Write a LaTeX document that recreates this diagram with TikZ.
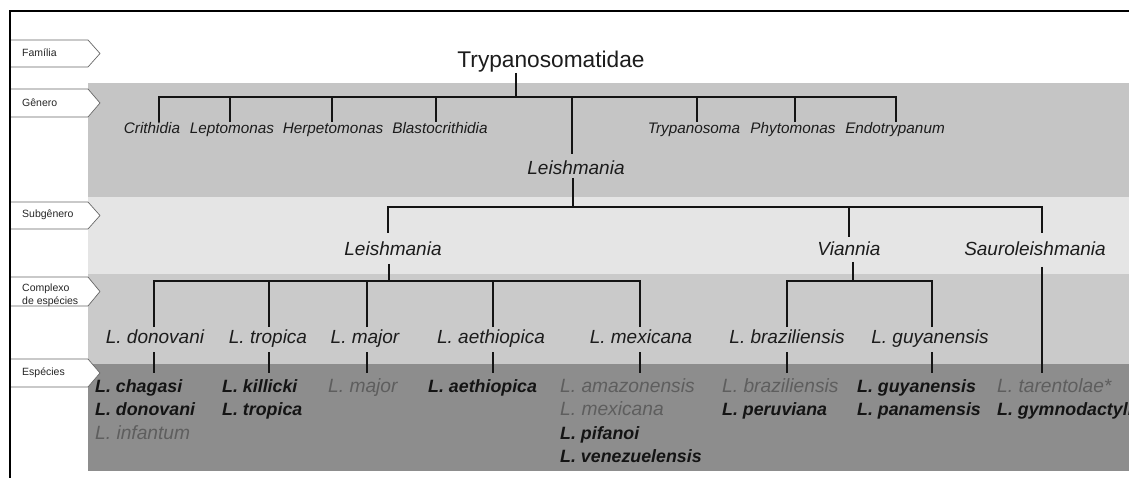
\documentclass[tikz,border=0pt]{standalone}
\usepackage{fontspec}
\setmainfont{Liberation Sans}
\definecolor{bandgen}{HTML}{C5C5C5}
\definecolor{bandsub}{HTML}{E5E5E5}
\definecolor{bandcom}{HTML}{CACACA}
\definecolor{bandesp}{HTML}{8D8D8D}
\definecolor{treetext}{HTML}{1C1C1C}
\definecolor{graysp}{HTML}{5E5E5E}
\begin{document}
\begin{tikzpicture}[x=1pt,y=-1pt,
  conn/.style={line width=2.7pt, draw=black!92},
  tabshape/.style={fill=white, draw=black!60, line width=0.7pt},
  tabtext/.style={anchor=west, inner sep=0pt, font=\fontsize{10.5}{13}\selectfont, text=black!85, align=left},
  famtext/.style={anchor=base, inner sep=0pt, font=\fontsize{22.7}{26}\selectfont, text=treetext},
  gentext/.style={anchor=base, inner sep=0pt, font=\fontsize{15.3}{18}\selectfont\itshape, text=treetext},
  bigtext/.style={anchor=base, inner sep=0pt, font=\fontsize{19}{22}\selectfont\itshape, text=treetext},
  spb/.style={anchor=base west, inner xsep=0pt, inner ysep=7pt, text height=12pt, text depth=4pt, font=\fontsize{17.8}{20}\selectfont\bfseries\itshape, text=black!92},
  spg/.style={spb, font=\fontsize{19.2}{22}\selectfont\itshape, text=graysp},
]
\clip (0,0) rectangle (1129,478);
\fill[white] (0,0) rectangle (1129,478);
% bands
\fill[bandgen] (88,83) rectangle (1129,197);
\fill[bandsub] (88,197) rectangle (1129,274);
\fill[bandcom] (88,274) rectangle (1129,364);
\fill[bandesp] (88,364) rectangle (1129,471);

% tabs
\path[tabshape] (10,40) -- (88,40) -- (100,53.5) -- (88,67) -- (10,67);
\path[tabshape] (10,89) -- (88,89) -- (100,103) -- (88,117) -- (10,117);
\path[tabshape] (10,202) -- (88,202) -- (100,215.5) -- (88,229) -- (10,229);
\path[tabshape] (10,277) -- (88,277) -- (100,291.5) -- (88,306) -- (10,306);
\path[tabshape] (10,359) -- (88,359) -- (100,373) -- (88,387) -- (10,387);
\node[tabtext] (tFam) at (22,53) {Família};
\node[tabtext] (tGen) at (22,102.5) {Gênero};
\node[tabtext] (tSub) at (22,215) {Subgênero};
\node[tabtext] (tCom) at (22,295) {Complexo\\de espécies};
\node[tabtext] (tEsp) at (22,372.5) {Espécies};

% frame
\draw[line width=2.3pt] (10,478) -- (10,11) -- (1129,11);

% family
\node[famtext] (T) at (551,68) {Trypanosomatidae};

% genera
\node[gentext] (gCri) at (152,134) {Crithidia};
\node[gentext] (gLep) at (232,134) {Leptomonas};
\node[gentext] (gHer) at (333,134) {Herpetomonas};
\node[gentext] (gBla) at (440,134) {Blastocrithidia};
\node[gentext] (gTry) at (694,134) {Trypanosoma};
\node[gentext] (gPhy) at (793,134) {Phytomonas};
\node[gentext] (gEnd) at (895,134) {Endotrypanum};
\node[bigtext] (gLei) at (576,175) {Leishmania};

% subgenera
\node[bigtext] (sLei) at (393,255) {Leishmania};
\node[bigtext] (sVia) at (849,255) {Viannia};
\node[bigtext] (sSau) at (1035,255) {Sauroleishmania};

% complexes
\node[bigtext] (cDon) at (155,343) {L. donovani};
\node[bigtext] (cTro) at (268,343) {L. tropica};
\node[bigtext] (cMaj) at (365,343) {L. major};
\node[bigtext] (cAet) at (491,343) {L. aethiopica};
\node[bigtext] (cMex) at (641,343) {L. mexicana};
\node[bigtext] (cBra) at (787,343) {L. braziliensis};
\node[bigtext] (cGuy) at (930,343) {L. guyanensis};

% species
\node[spb] (sDon1) at (95,392) {L. chagasi};
\node[spb] (sDon2) at (95,415.5) {L. donovani};
\node[spg] (sDon3) at (95,439) {L. infantum};
\node[spb] (sTro1) at (222,392) {L. killicki};
\node[spb] (sTro2) at (222,415.5) {L. tropica};
\node[spg] (sMaj1) at (328,392) {L. major};
\node[spb] (sAet1) at (428,392) {L. aethiopica};
\node[spg] (sMex1) at (560,392) {L. amazonensis};
\node[spg] (sMex2) at (560,415.5) {L. mexicana};
\node[spb] (sMex3) at (560,439) {L. pifanoi};
\node[spb] (sMex4) at (560,462.5) {L. venezuelensis};
\node[spg] (sBra1) at (722,392) {L. braziliensis};
\node[spb] (sBra2) at (722,415.5) {L. peruviana};
\node[spb] (sGuy1) at (857,392) {L. guyanensis};
\node[spb] (sGuy2) at (857,415.5) {L. panamensis};
\node[spg] (sSau1) at (997,392) {L. tarentolae*};
\node[spb] (sSau2) at (997,415.5) {L. gymnodactyli};

% ---- connectors: family -> genera
\coordinate (Tb) at ([xshift=-35pt,yshift=-5pt]T.base);
\coordinate (barG) at (516,97);
\draw[conn] (Tb) -- (barG);
\coordinate (gCriT) at ([xshift=7pt,yshift=12pt]gCri.base);
\coordinate (gLepT) at ([xshift=-2pt,yshift=12pt]gLep.base);
\coordinate (gHerT) at ([xshift=-1pt,yshift=12pt]gHer.base);
\coordinate (gBlaT) at ([xshift=-4pt,yshift=12pt]gBla.base);
\coordinate (gTryT) at ([xshift=3pt,yshift=12pt]gTry.base);
\coordinate (gPhyT) at ([xshift=2pt,yshift=12pt]gPhy.base);
\coordinate (gEndT) at ([xshift=1pt,yshift=12pt]gEnd.base);
\coordinate (gLeiT) at ([xshift=-4pt,yshift=21pt]gLei.base);
\foreach \g in {gCriT,gLepT,gHerT,gBlaT,gTryT,gPhyT,gEndT,gLeiT}
  \draw[conn] (\g) |- (barG);

% genus Leishmania -> subgenera
\coordinate (gLeiB) at ([xshift=-3pt,yshift=-3pt]gLei.base);
\coordinate (barS) at (573,207);
\draw[conn] (gLeiB) -- (barS);
\coordinate (sLeiT) at ([xshift=-5pt,yshift=22pt]sLei.base);
\coordinate (sViaT) at ([yshift=18pt]sVia.base);
\coordinate (sSauT) at ([xshift=7pt,yshift=22pt]sSau.base);
\foreach \g in {sLeiT,sViaT,sSauT}
  \draw[conn] (\g) |- (barS);

% subgenus Leishmania -> complexes
\coordinate (sLeiB) at ([xshift=-4pt,yshift=-9pt]sLei.base);
\coordinate (barL) at (389,281);
\draw[conn] (sLeiB) -- (barL);
\coordinate (cDonT) at ([xshift=-1pt,yshift=16pt]cDon.base);
\coordinate (cTroT) at ([xshift=1pt,yshift=16pt]cTro.base);
\coordinate (cMajT) at ([xshift=2pt,yshift=16pt]cMaj.base);
\coordinate (cAetT) at ([xshift=2pt,yshift=16pt]cAet.base);
\coordinate (cMexT) at ([xshift=-1pt,yshift=16pt]cMex.base);
\foreach \g in {cDonT,cTroT,cMajT,cAetT,cMexT}
  \draw[conn] (\g) |- (barL);

% subgenus Viannia -> complexes
\coordinate (sViaB) at ([xshift=4pt,yshift=-7pt]sVia.base);
\coordinate (barV) at (853,281);
\draw[conn] (sViaB) -- (barV);
\coordinate (cBraT) at ([yshift=16pt]cBra.base);
\coordinate (cGuyT) at ([xshift=2pt,yshift=16pt]cGuy.base);
\foreach \g in {cBraT,cGuyT}
  \draw[conn] (\g) |- (barV);

% complexes -> species
\coordinate (cDonB) at ([xshift=-1pt,yshift=-9pt]cDon.base);
\coordinate (cTroB) at ([xshift=1pt,yshift=-9pt]cTro.base);
\coordinate (cMajB) at ([xshift=2pt,yshift=-9pt]cMaj.base);
\coordinate (cAetB) at ([xshift=2pt,yshift=-9pt]cAet.base);
\coordinate (cMexB) at ([xshift=-1pt,yshift=-9pt]cMex.base);
\coordinate (cBraB) at ([yshift=-9pt]cBra.base);
\coordinate (cGuyB) at ([xshift=2pt,yshift=-9pt]cGuy.base);
\draw[conn] (cDonB) -- (cDonB |- sDon1.north);
\draw[conn] (cTroB) -- (cTroB |- sTro1.north);
\draw[conn] (cMajB) -- (cMajB |- sMaj1.north);
\draw[conn] (cAetB) -- (cAetB |- sAet1.north);
\draw[conn] (cMexB) -- (cMexB |- sMex1.north);
\draw[conn] (cBraB) -- (cBraB |- sBra1.north);
\draw[conn] (cGuyB) -- (cGuyB |- sGuy1.north);

% Sauroleishmania -> species
\coordinate (sSauB) at ([xshift=7pt,yshift=-12pt]sSau.base);
\draw[conn] (sSauB) -- (sSauB |- sSau1.north);
\end{tikzpicture}
\end{document}
